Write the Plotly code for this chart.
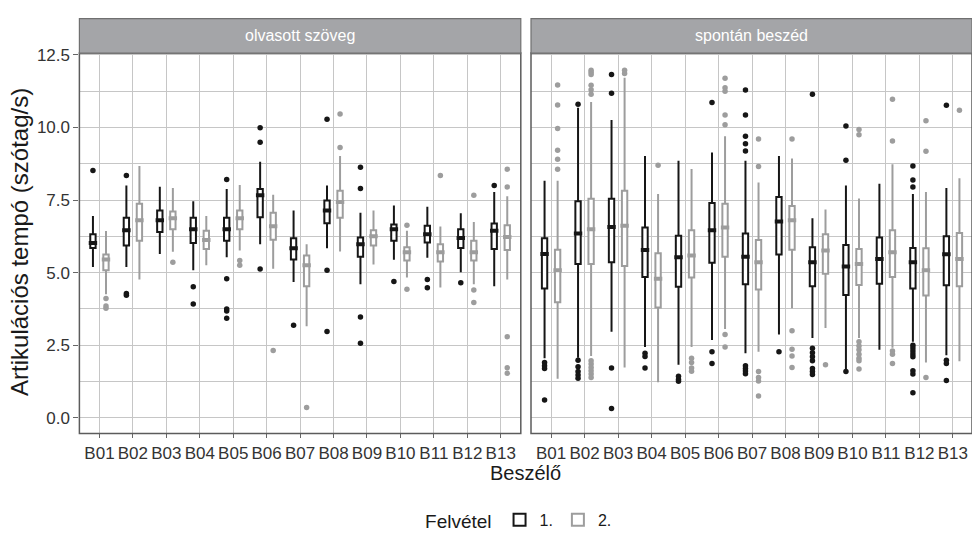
import plotly.graph_objects as go

# ---- data -------------------------------------------------------------
speakers = ["B01", "B02", "B03", "B04", "B05", "B06", "B07",
            "B08", "B09", "B10", "B11", "B12", "B13"]
y_ticks = [0.0, 2.5, 5.0, 7.5, 10.0, 12.5]
y_ticklabels = ["0.0", "2.5", "5.0", "7.5", "10.0", "12.5"]
facets = ["olvasott szöveg", "spontán beszéd"]
recordings = ["1.", "2."]

# olvasott szöveg – 1. felvétel
olv1_lo = [5.19, 5.19, 5.64, 5.08, 5.53, 5.98, 4.68, 5.84, 4.60, 5.44, 5.51, 5.01, 4.53]
olv1_q1 = [5.85, 5.93, 6.40, 6.02, 6.10, 6.91, 5.45, 6.70, 5.55, 6.10, 6.04, 5.85, 5.81]
olv1_med = [6.02, 6.46, 6.80, 6.49, 6.49, 7.66, 5.84, 7.14, 5.98, 6.49, 6.32, 6.19, 6.44]
olv1_q3 = [6.32, 6.89, 7.14, 6.89, 6.89, 7.88, 6.18, 7.48, 6.21, 6.66, 6.61, 6.49, 6.69]
olv1_hi = [6.95, 8.00, 7.96, 7.46, 7.88, 8.82, 7.14, 8.00, 7.06, 7.31, 7.27, 7.04, 7.78]
olv1_out = [[8.52], [8.34, 4.28, 4.22], [], [4.51, 3.92],
            [8.21, 4.79, 3.75, 3.68, 3.43], [9.99, 9.49, 5.12], [3.19],
            [10.28, 5.08, 2.97], [8.63, 7.90, 3.47, 2.57], [4.69],
            [4.76, 4.48], [4.65], [8.00]]

# olvasott szöveg – 2. felvétel
olv2_lo = [4.25, 4.76, 5.72, 5.25, 5.76, 5.13, 3.15, 5.73, 5.28, 4.83, 4.49, 4.60, 4.76]
olv2_q1 = [5.08, 6.10, 6.49, 5.81, 6.49, 6.13, 4.53, 6.89, 5.93, 5.42, 5.38, 5.42, 5.78]
olv2_med = [5.45, 6.80, 6.87, 6.12, 6.87, 6.60, 5.25, 7.43, 6.25, 5.70, 5.70, 5.70, 6.23]
olv2_q3 = [5.62, 7.37, 7.10, 6.44, 7.14, 7.06, 5.59, 7.82, 6.46, 5.87, 5.98, 6.10, 6.63]
olv2_hi = [6.43, 8.67, 7.91, 6.95, 8.02, 7.68, 5.98, 9.02, 7.14, 6.44, 6.59, 6.74, 7.63]
olv2_out = [[4.11, 3.85, 3.77], [], [5.36], [], [5.42, 5.25], [2.32], [0.35],
            [10.46, 9.31], [], [6.63, 4.43], [8.34], [7.66, 4.40, 3.97],
            [8.56, 7.95, 2.79, 1.72, 1.53]]

# spontán beszéd – 1. felvétel
spo1_lo = [2.05, 2.07, 2.96, 2.44, 1.83, 2.68, 2.22, 2.87, 2.75, 1.66, 2.34, 2.62, 2.15]
spo1_q1 = [4.45, 5.30, 5.36, 4.85, 4.51, 5.34, 4.60, 5.62, 4.53, 4.23, 4.62, 4.45, 4.56]
spo1_med = [5.64, 6.35, 6.57, 5.78, 5.53, 6.46, 5.55, 6.76, 5.36, 5.21, 5.47, 5.36, 5.63]
spo1_q3 = [6.18, 7.46, 7.54, 6.55, 6.27, 7.40, 6.35, 7.60, 5.87, 5.95, 6.21, 5.85, 6.25]
spo1_hi = [8.16, 10.68, 10.26, 9.02, 8.85, 9.14, 8.85, 9.02, 6.87, 8.00, 8.06, 7.71, 7.91]
spo1_out = [[1.90, 1.79, 1.70, 0.61],
            [10.80, 1.98, 1.76, 1.59, 1.47, 1.36],
            [11.82, 11.18, 1.71, 0.32],
            [2.22, 2.11, 1.71],
            [1.43, 1.32, 1.26],
            [10.86, 2.27, 1.87],
            [11.29, 10.43, 9.70, 9.44, 9.19, 1.79, 1.70, 1.61, 1.52],
            [2.27],
            [11.14, 2.39, 2.24, 2.10, 1.96, 1.70, 1.59, 1.49],
            [10.05, 8.87, 1.59],
            [],
            [8.67, 8.19, 7.95, 2.50, 2.40, 2.30, 2.20, 2.10, 1.62, 1.51, 0.86],
            [10.76, 1.98, 1.87, 1.28]]

# spontán beszéd – 2. felvétel
spo2_lo = [1.34, 2.13, 1.73, 1.22, 2.44, 3.06, 2.27, 3.77, 3.09, 2.75, 2.41, 1.90, 1.95]
spo2_q1 = [3.98, 5.30, 5.23, 3.80, 4.83, 5.55, 4.42, 5.79, 4.96, 4.57, 4.85, 4.21, 4.53]
spo2_med = [5.08, 6.49, 6.61, 4.79, 5.59, 6.55, 5.36, 6.80, 5.76, 5.30, 5.70, 5.08, 5.47]
spo2_q3 = [5.79, 7.54, 7.82, 5.67, 6.46, 7.37, 6.12, 7.29, 6.32, 5.81, 6.46, 5.84, 6.36]
spo2_hi = [8.16, 10.88, 11.71, 7.71, 8.57, 9.70, 8.10, 8.93, 7.17, 7.55, 8.73, 7.78, 8.25]
spo2_out = [[11.46, 10.77, 9.96, 9.21, 8.90, 8.56],
            [11.97, 11.90, 11.82, 11.45, 11.30, 11.14, 1.96, 1.85, 1.73, 1.62, 1.51, 1.39],
            [11.97, 11.86],
            [8.70],
            [2.05, 1.90, 1.71, 1.60],
            [11.69, 11.37, 11.25, 10.43, 10.09, 2.87, 2.44],
            [9.60, 8.65, 1.59, 1.39, 1.27, 0.75],
            [9.60, 3.00, 2.36, 2.13, 1.73],
            [1.83],
            [9.93, 9.75, 2.62, 2.47, 2.34, 2.19, 2.05, 1.96, 1.68],
            [10.97, 9.53, 2.30, 2.19, 1.87],
            [10.23, 9.18, 1.39],
            [10.59]]

# ---- styling ----------------------------------------------------------
FONT = "Liberation Sans, Arial, Helvetica, sans-serif"
REC_COLORS = ["#161616", "#9d9d9d"]
DODGE = [-0.195, 0.195]
BOX_W = 0.16
GRID = "#c6c6c6"
BORDER = "#5c5c5c"

groups = [
    (0, 0, olv1_lo, olv1_q1, olv1_med, olv1_q3, olv1_hi, olv1_out),
    (0, 1, olv2_lo, olv2_q1, olv2_med, olv2_q3, olv2_hi, olv2_out),
    (1, 0, spo1_lo, spo1_q1, spo1_med, spo1_q3, spo1_hi, spo1_out),
    (1, 1, spo2_lo, spo2_q1, spo2_med, spo2_q3, spo2_hi, spo2_out),
]

fig = go.Figure()
positions = list(range(1, len(speakers) + 1))

for facet, rec, lo, q1, med, q3, hi, out in groups:
    xa = "x" if facet == 0 else "x2"
    ya = "y" if facet == 0 else "y2"
    col = REC_COLORS[rec]
    xs = [p + DODGE[rec] for p in positions]
    fig.add_trace(go.Box(
        x=xs, q1=q1, median=med, q3=q3, lowerfence=lo, upperfence=hi,
        orientation="v", width=BOX_W, whiskerwidth=0, boxpoints=False,
        fillcolor="white", line=dict(color=col, width=2),
        name=recordings[rec], legendgroup=recordings[rec],
        showlegend=(facet == 0), xaxis=xa, yaxis=ya, hoverinfo="skip",
    ))
    # thick median bar
    fig.add_trace(go.Scatter(
        x=xs, y=med, mode="markers", showlegend=False, hoverinfo="skip",
        marker=dict(symbol="line-ew", size=6, line=dict(width=4, color=col)),
        xaxis=xa, yaxis=ya,
    ))
    # outliers
    ox, oy = [], []
    for p, vals in zip(xs, out):
        ox += [p] * len(vals)
        oy += vals
    fig.add_trace(go.Scatter(
        x=ox, y=oy, mode="markers", showlegend=False, hoverinfo="skip",
        marker=dict(size=5.5, color=col, line=dict(width=0)),
        xaxis=xa, yaxis=ya,
    ))

W, H = 972, 544
panel_top_px, panel_bot_px = 46.7, 432.0
strip_top_px = 11.7
y_dom = [(H - panel_bot_px) / H, (H - panel_top_px) / H]
strip_y = [(H - panel_top_px) / H, (H - strip_top_px) / H]

xaxis_common = dict(
    tickmode="array", tickvals=positions, ticktext=speakers,
    showgrid=True, gridcolor=GRID, gridwidth=1, zeroline=False,
    ticks="outside", ticklen=4, tickwidth=1, tickcolor="#666",
    tickfont=dict(family=FONT, size=17, color="#333"), showline=False,
)
yaxis_common = dict(
    range=[-0.54, 12.56], domain=y_dom, showgrid=True, gridcolor=GRID,
    gridwidth=1, zeroline=False, showline=False,
    minor=dict(tickvals=[1.25, 3.75, 6.25, 8.75, 11.25], showgrid=True,
               gridcolor=GRID, gridwidth=0.8, ticks=""),
)

fig.update_layout(
    width=W, height=H, margin=dict(l=0, r=0, t=0, b=0),
    paper_bgcolor="white", plot_bgcolor="white",
    font=dict(family=FONT, color="#1a1a1a"),
    xaxis=dict(domain=[79.4 / W, 520.8 / W], range=[0.4, 13.6], anchor="y",
               **xaxis_common),
    xaxis2=dict(domain=[531.0 / W, 1.0], range=[0.4, 13.57], anchor="y2",
                **xaxis_common),
    yaxis=dict(anchor="x", tickmode="array", tickvals=y_ticks,
               ticktext=y_ticklabels, ticks="outside", ticklen=5,
               tickcolor="#666", tickfont=dict(family=FONT, size=17, color="#333"),
               **yaxis_common),
    yaxis2=dict(anchor="x2", matches="y", tickvals=y_ticks,
                showticklabels=False, ticks="", **yaxis_common),
    showlegend=True,
    legend=dict(
        orientation="h", x=0.535, xanchor="center", y=0.044, yanchor="middle",
        title=dict(text="Felvétel", side="left",
                   font=dict(family=FONT, size=19, color="#1a1a1a")),
        font=dict(family=FONT, size=16, color="#1a1a1a"),
        itemwidth=30, bgcolor="rgba(0,0,0,0)",
    ),
)

shapes = []
annotations = []
for i, name in enumerate(facets):
    xr = "x" if i == 0 else "x2"
    yr = "y" if i == 0 else "y2"
    shapes.append(dict(type="rect", xref=f"{xr} domain", yref=f"{yr} domain",
                       x0=0, x1=1, y0=0, y1=1, layer="above",
                       line=dict(color=BORDER, width=1.5),
                       fillcolor="rgba(0,0,0,0)"))
    shapes.append(dict(type="rect", xref=f"{xr} domain", yref="paper",
                       x0=0, x1=1, y0=strip_y[0], y1=strip_y[1],
                       line=dict(color="#707070", width=1.2),
                       fillcolor="#a4a5a8"))
    annotations.append(dict(text=name, xref=f"{xr} domain", yref="paper",
                            x=0.5, y=(strip_y[0] + strip_y[1]) / 2,
                            xanchor="center", yanchor="middle", showarrow=False,
                            font=dict(family=FONT, size=16, color="white")))

annotations.append(dict(text="Artikulációs tempó (szótag/s)", xref="paper",
                        yref="paper", x=20 / W, y=(H - 238) / H, textangle=-90,
                        xanchor="center", yanchor="middle", showarrow=False,
                        font=dict(family=FONT, size=24, color="#1a1a1a")))
annotations.append(dict(text="Beszélő", xref="paper", yref="paper",
                        x=525 / W, y=(H - 472) / H, xanchor="center",
                        yanchor="middle", showarrow=False,
                        font=dict(family=FONT, size=20, color="#1a1a1a")))

fig.update_layout(shapes=shapes, annotations=annotations)
fig.write_html("out.html")
